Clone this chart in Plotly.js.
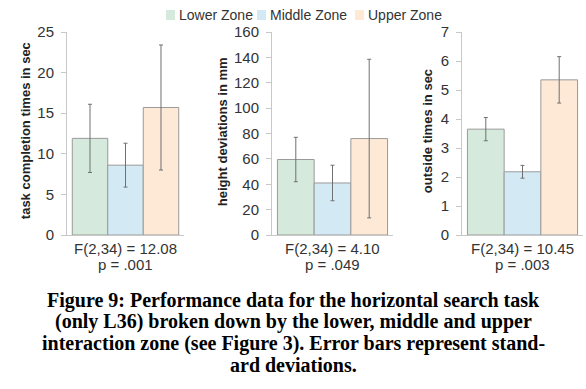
<!DOCTYPE html>
<html><head><meta charset="utf-8">
<script src="https://cdn.plot.ly/plotly-3.0.1.min.js"></script>
<style>html,body{margin:0;padding:0;background:#fff}#chart{width:586px;height:389px}</style>
</head><body><div id="chart"></div>
<script>
const zones = ["Lower Zone", "Middle Zone", "Upper Zone"];
const zoneColors = ["#d5eadc", "#d3eaf5", "#fde9d6"];
const panelTitles = ["task completion times in sec", "height deviations in mm", "outside times in sec"];
const panelRanges = [[0, 25], [0, 160], [0, 7]];
const panelDtick = [5, 20, 1];
const fStats = ["F(2,34) = 12.08", "F(2,34) = 4.10", "F(2,34) = 10.45"];
const pStats = ["p = .001", "p = .049", "p = .003"];
// means and standard deviations per panel [lower, middle, upper]
const completionMeans = [11.9, 8.6, 15.7];
const completionSD = [4.2, 2.7, 7.7];
const heightMeans = [59.5, 41, 76];
const heightSD = [17.5, 14, 62.5];
const outsideMeans = [3.65, 2.18, 5.35];
const outsideSD = [0.4, 0.22, 0.8];
const caption = ["Figure 9: Performance data for the horizontal search task",
  "(only L36) broken down by the lower, middle and upper",
  "interaction zone (see Figure 3). Error bars represent stand-",
  "ard deviations."];

const means = [completionMeans, heightMeans, outsideMeans];
const sds = [completionSD, heightSD, outsideSD];
const W = 586, H = 389;
const domains = [[67/W, 184/W], [272/W, 393/W], [462/W, 583/W]];
const yDom = [(H-235)/H, (H-32)/H];
const titleX = [25, 222, 427];
const legendSq = [166, 257, 355];

const traces = [];
const layout = {
  width: W, height: H,
  margin: {l: 0, r: 0, t: 0, b: 0},
  paper_bgcolor: "#fff", plot_bgcolor: "#fff",
  font: {family: "Liberation Sans, Arial, sans-serif", size: 13, color: "#333"},
  barmode: "group", bargap: 0.09, bargroupgap: 0,
  showlegend: false,
  annotations: [],
  shapes: []
};

for (let p = 0; p < 3; p++) {
  const sfx = p === 0 ? "" : String(p + 1);
  for (let z = 0; z < 3; z++) {
    traces.push({
      type: "bar", name: zones[z], x: [""], y: [means[p][z]],
      xaxis: "x" + sfx, yaxis: "y" + sfx,
      marker: {color: zoneColors[z], line: {color: "#9a9a9a", width: 1}},
      error_y: {type: "data", array: [sds[p][z]], visible: true, color: "#707070", thickness: 1, width: 2},
      hoverinfo: "skip"
    });
  }
  layout["xaxis" + sfx] = {
    domain: domains[p], anchor: "y" + sfx, showticklabels: false, ticks: "",
    showline: true, linecolor: "#c8c8c8", linewidth: 1, showgrid: false, zeroline: false, fixedrange: true
  };
  layout["yaxis" + sfx] = {
    domain: yDom, anchor: "x" + sfx, range: panelRanges[p], dtick: panelDtick[p],
    showline: true, linecolor: "#c8c8c8", linewidth: 1, ticks: "outside", ticklen: 5, tickcolor: "#c8c8c8",
    ticklabelstandoff: 4,
    showgrid: false, zeroline: false, tickfont: {size: 15, color: "#333"}
  };
  layout.annotations.push({xref: "paper", yref: "paper", x: titleX[p] / W, y: (yDom[0] + yDom[1]) / 2 + 0.006,
    text: "<b>" + panelTitles[p] + "</b>", textangle: -90, showarrow: false,
    xanchor: "center", yanchor: "middle", font: {size: 13, color: "#222"}});
  const cx = (domains[p][0] + domains[p][1]) / 2;
  layout.annotations.push({xref: "paper", yref: "paper", x: cx, y: (H-248)/H, text: fStats[p],
    showarrow: false, xanchor: "center", yanchor: "middle", font: {size: 15, color: "#333"}});
  layout.annotations.push({xref: "paper", yref: "paper", x: cx, y: (H-264)/H, text: pStats[p],
    showarrow: false, xanchor: "center", yanchor: "middle", font: {size: 15, color: "#333"}});
}
// legend drawn as swatches + labels
zones.forEach((name, z) => {
  layout.shapes.push({type: "rect", xref: "paper", yref: "paper",
    x0: legendSq[z] / W, x1: (legendSq[z] + 9) / W, y0: (H-20)/H, y1: (H-10)/H,
    fillcolor: zoneColors[z], line: {width: 0}});
  layout.annotations.push({xref: "paper", yref: "paper", x: (legendSq[z] + 11) / W, y: (H-15)/H,
    text: name, showarrow: false, xanchor: "left", yanchor: "middle",
    font: {size: 14, color: "#333"}});
});
caption.forEach((line, i) => {
  layout.annotations.push({xref: "paper", yref: "paper", x: 0.5, y: (H-(300 + i*21.7))/H, text: "<b>" + line + "</b>",
    showarrow: false, xanchor: "center", yanchor: "middle",
    font: {family: "Liberation Serif, Times New Roman, serif", size: 20, color: "#000"}});
});

Plotly.newPlot("chart", traces, layout, {staticPlot: true, displayModeBar: false});
</script></body></html>
